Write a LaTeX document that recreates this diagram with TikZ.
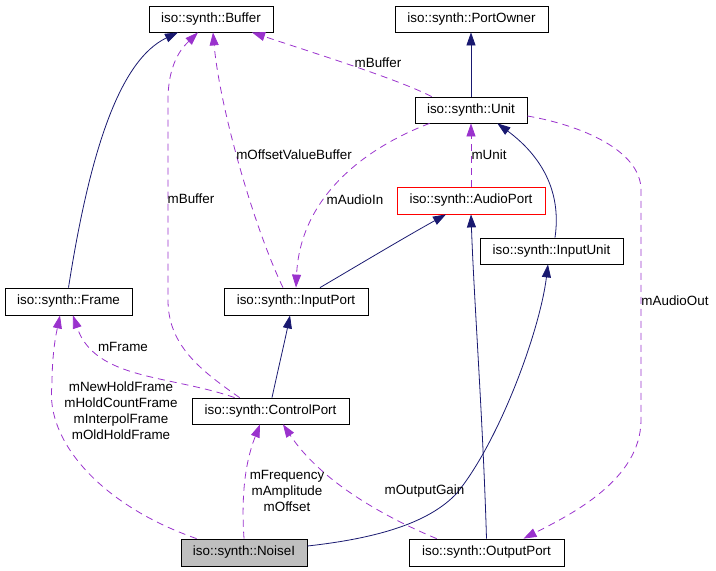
\documentclass[tikz,border=0pt]{standalone}
\usepackage{fontspec}
\setmainfont{Liberation Sans}
\usetikzlibrary{arrows.meta,calc}
\definecolor{inhcol}{HTML}{191970}
\definecolor{usecol}{HTML}{9A32CD}
\definecolor{selfcol}{HTML}{BFBFBF}
\begin{document}
\begin{tikzpicture}[x=1pt,y=-1pt,
  cls/.style={draw=black,line width=0.8pt,inner sep=0pt,minimum height=26pt,
    font=\fontsize{13.4}{16}\selectfont,fill=white},
  inh/.style={draw=inhcol,line width=0.8pt,-{Triangle[length=13pt,width=9pt]}},
  use/.style={draw=usecol,line width=0.8pt,dash pattern=on 7pt off 5pt,
    -{Triangle[length=13pt,width=9pt]}},
  lbl/.style={font=\fontsize{13.4}{16}\selectfont,inner sep=0pt,align=center}]
\useasboundingbox (0,0) rectangle (716,571);
% classes
\node[cls,minimum width=124pt] (buffer) at (211,19) {iso::synth::Buffer};
\node[cls,minimum width=153pt] (portowner) at (471.5,19) {iso::synth::PortOwner};
\node[cls,minimum width=112pt] (unit) at (471,110) {iso::synth::Unit};
\node[cls,minimum width=148pt,minimum height=27pt,draw=red] (audioport) at (471,200.5) {iso::synth::AudioPort};
\node[cls,minimum width=143pt] (inputunit) at (551.5,251) {iso::synth::InputUnit};
\node[cls,minimum width=127pt,minimum height=27pt] (frame) at (68.5,301.5) {iso::synth::Frame};
\node[cls,minimum width=144pt,minimum height=27pt] (inputport) at (296,301.5) {iso::synth::InputPort};
\node[cls,minimum width=157pt] (controlport) at (270.5,411) {iso::synth::ControlPort};
\node[cls,minimum width=126pt,minimum height=27pt,fill=selfcol] (noisei) at (244,552.5) {iso::synth::NoiseI};
\node[cls,minimum width=155pt,minimum height=27pt] (outputport) at (486.5,552.5) {iso::synth::OutputPort};
% inheritance edges
\draw[inh] (frame.north) .. controls (90,150) and (120,60) .. ([xshift=-33pt]buffer.south);
\draw[inh] (unit.north) -- (portowner.south -| unit.north);
\draw[inh] ([xshift=3.5pt]inputunit.north) .. controls (562,190) and (540,155) .. ([xshift=-30pt]unit.south east);
\draw[inh] ([xshift=24pt]inputport.north) .. controls (345,273) and (400,240) .. ([xshift=-25pt]audioport.south);
\draw[inh] ([xshift=1.5pt]controlport.north) .. controls (278,370) and (285,340) .. ([xshift=-6pt]inputport.south);
\draw[inh] ($(noisei.east)+(0,-6.5)$) .. controls (380,538) and (430,522) .. (457,493)
  .. controls (500,440) and (540,330) .. ([xshift=-3.5pt]inputunit.south);
\draw[inh] (outputport.north) .. controls (483,420) and (474,300) .. (audioport.south);
% usage edges
\draw[use] ([xshift=48pt]controlport.north west) .. controls (200,370) and (168,345) .. (168,300)
  -- (168,100) .. controls (168,60) and (185,45) .. ([xshift=-13pt]buffer.south);
\draw[use] ([xshift=-13pt]inputport.north) .. controls (255,230) and (220,110) .. ([xshift=2pt]buffer.south);
\draw[use] ([xshift=17pt]unit.north west) .. controls (400,80) and (320,55) .. ([xshift=41pt]buffer.south);
\draw[use] (audioport.north) -- (unit.south);
\draw[use] ([xshift=15pt]unit.south west) .. controls (360,150) and (300,200) .. (inputport.north);
\draw[use] ($(unit.east)+(0,6)$) .. controls (580,125) and (641,150) .. (641,190)
  -- (641,420) .. controls (641,480) and (570,515) .. ([xshift=37pt]outputport.north);
\draw[use] ([xshift=16pt]noisei.north west) .. controls (100,505) and (45,440) .. (52,385)
  .. controls (52,350) and (57,330) .. ([xshift=-8.5pt]frame.south);
\draw[use] ([xshift=43pt]controlport.north west) .. controls (170,375) and (95,380) .. ([xshift=4.5pt]frame.south);
\draw[use] (noisei.north) .. controls (240,480) and (250,450) .. ([xshift=-10.5pt]controlport.south);
\draw[use] ([xshift=28pt]outputport.north west) .. controls (380,515) and (320,480) .. ([xshift=12.5pt]controlport.south);
% labels
\node[lbl] (lbufa) at (191,199) {mBuffer};
\node[lbl] (lofs) at (294,155) {mOffsetValueBuffer};
\node[lbl] (lbufb) at (378,63) {mBuffer};
\node[lbl] (lunit) at (489,155) {mUnit};
\node[lbl] (laudin) at (355,200) {mAudioIn};
\node[lbl] (laudout) at (675,301) {mAudioOut};
\node[lbl] (lframe) at (123,347) {mFrame};
\node[lbl] (lhold) at (121,411) {mNewHoldFrame\\mHoldCountFrame\\mInterpolFrame\\mOldHoldFrame};
\node[lbl] (lfreq) at (287,491) {mFrequency\\mAmplitude\\mOffset};
\node[lbl] (lgain) at (424.5,491) {mOutputGain};
\end{tikzpicture}
\end{document}
